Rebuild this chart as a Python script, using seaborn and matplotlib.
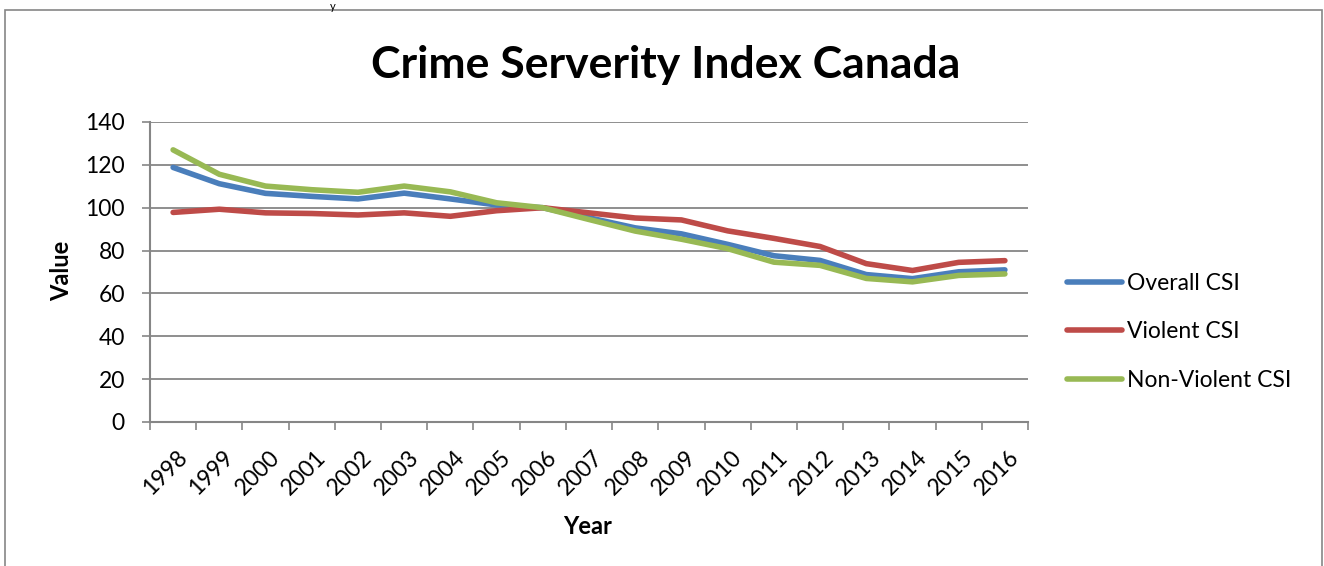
import matplotlib
matplotlib.use("Agg")
import matplotlib.pyplot as plt
import matplotlib.transforms as mtransforms
from matplotlib.patches import Rectangle
import seaborn as sns
import pandas as pd
import numpy as np

# ---- data ----
years = ["1998", "1999", "2000", "2001", "2002", "2003", "2004", "2005", "2006", "2007",
         "2008", "2009", "2010", "2011", "2012", "2013", "2014", "2015", "2016"]
overall_csi = [118.8, 111.2, 106.7, 105.3, 104.1, 106.8, 104.1, 101.3, 100.0, 95.3,
               90.6, 87.8, 82.9, 77.6, 75.4, 68.8, 66.9, 70.1, 71.0]
violent_csi = [97.8, 99.3, 97.6, 97.3, 96.6, 97.6, 96.0, 98.6, 100.0, 97.6,
               95.2, 94.3, 89.2, 85.7, 81.9, 73.9, 70.7, 74.5, 75.3]
nonviolent_csi = [127.0, 115.6, 110.1, 108.4, 107.2, 110.1, 107.4, 102.3, 100.0, 94.5,
                  89.1, 85.3, 80.9, 74.6, 73.1, 67.0, 65.4, 68.4, 69.1]
series_names = ["Overall CSI", "Violent CSI", "Non-Violent CSI"]
y_ticks = [0, 20, 40, 60, 80, 100, 120, 140]

colors = ["#4A7EBB", "#BE4B48", "#98B954"]
grey = "#868686"

rows = []
for name, vals in zip(series_names, [overall_csi, violent_csi, nonviolent_csi]):
    for yr, v in zip(years, vals):
        rows.append({"Year": yr, "Value": v, "Series": name})
df = pd.DataFrame(rows)

sns.set_theme(style="white")
plt.rcParams["font.family"] = ["Lato", "DejaVu Sans"]
plt.rcParams["text.color"] = "black"

W, H = 1324, 566
fig = plt.figure(figsize=(W / 100, H / 100), dpi=100)
ax = fig.add_axes([150 / W, 1 - 422 / H, 878 / W, 300 / H])

sns.lineplot(data=df, x="Year", y="Value", hue="Series", palette=colors,
             hue_order=series_names, linewidth=4.0, sort=False, ax=ax, legend=True)
for ln in ax.get_lines():
    ln.set_solid_capstyle("round")
    ln.set_solid_joinstyle("round")

ax.set_xlim(-0.5, len(years) - 0.5)
ax.set_ylim(0, 140)
ax.set_yticks(y_ticks)
ax.set_yticklabels([str(t) for t in y_ticks], fontsize=16.5)
ax.grid(axis="y", color=grey, linewidth=1.3)
ax.grid(axis="x", visible=False)
ax.set_axisbelow(True)

for s in ["top", "right"]:
    ax.spines[s].set_visible(False)
for s in ["left", "bottom"]:
    ax.spines[s].set_color(grey)
    ax.spines[s].set_linewidth(1.5)

ax.tick_params(axis="y", which="major", length=6, width=1.2, color=grey,
               direction="out", left=True, pad=12, labelcolor="black")
ax.set_xticks(range(len(years)))
ax.set_xticks(np.arange(-0.5, len(years), 1.0), minor=True)
ax.set_xticklabels(years, fontsize=16.5, rotation=45, ha="right",
                   rotation_mode="anchor", va="center")
ax.tick_params(axis="x", which="major", length=0, pad=23, labelcolor="black")
ax.tick_params(axis="x", which="minor", length=6, width=1.2, color=grey,
               direction="out", bottom=True)
off = mtransforms.ScaledTranslation(11 / 100, 0, fig.dpi_scale_trans)
for lab in ax.get_xticklabels():
    lab.set_transform(lab.get_transform() + off)

ax.set_xlabel("")
ax.set_ylabel("")

handles, labels = ax.get_legend_handles_labels()
ax.legend_.remove()
leg = fig.legend(handles, labels, loc="center left",
                 bbox_to_anchor=(1067 / W, 1 - 332 / H), bbox_transform=fig.transFigure,
                 frameon=False, fontsize=16.5, handlelength=2.4, handletextpad=0.2,
                 labelspacing=1.2, borderpad=0, borderaxespad=0)
for h in leg.get_lines():
    h.set_linewidth(4.0)
    h.set_solid_capstyle("round")

fig.text(666 / W, 1 - 78 / H, "Crime Serverity Index Canada", ha="center",
         va="baseline", fontsize=32, fontweight="bold")
fig.text(62 / W, 1 - 271 / H, "Value", ha="center", va="center", rotation=90,
         fontsize=17, fontweight="bold")
fig.text(588 / W, 1 - 526 / H, "Year", ha="center", va="center",
         fontsize=17, fontweight="bold")
fig.text(333 / W, 1 - 1 / H, "y", ha="center", va="top", fontsize=8)

fig.patches.append(Rectangle((5 / W, -0.1), (1322 - 5) / W, (H - 10) / H + 0.1,
                             transform=fig.transFigure, fill=False,
                             edgecolor=grey, linewidth=1.2))

fig.savefig("out.png", dpi=100)
